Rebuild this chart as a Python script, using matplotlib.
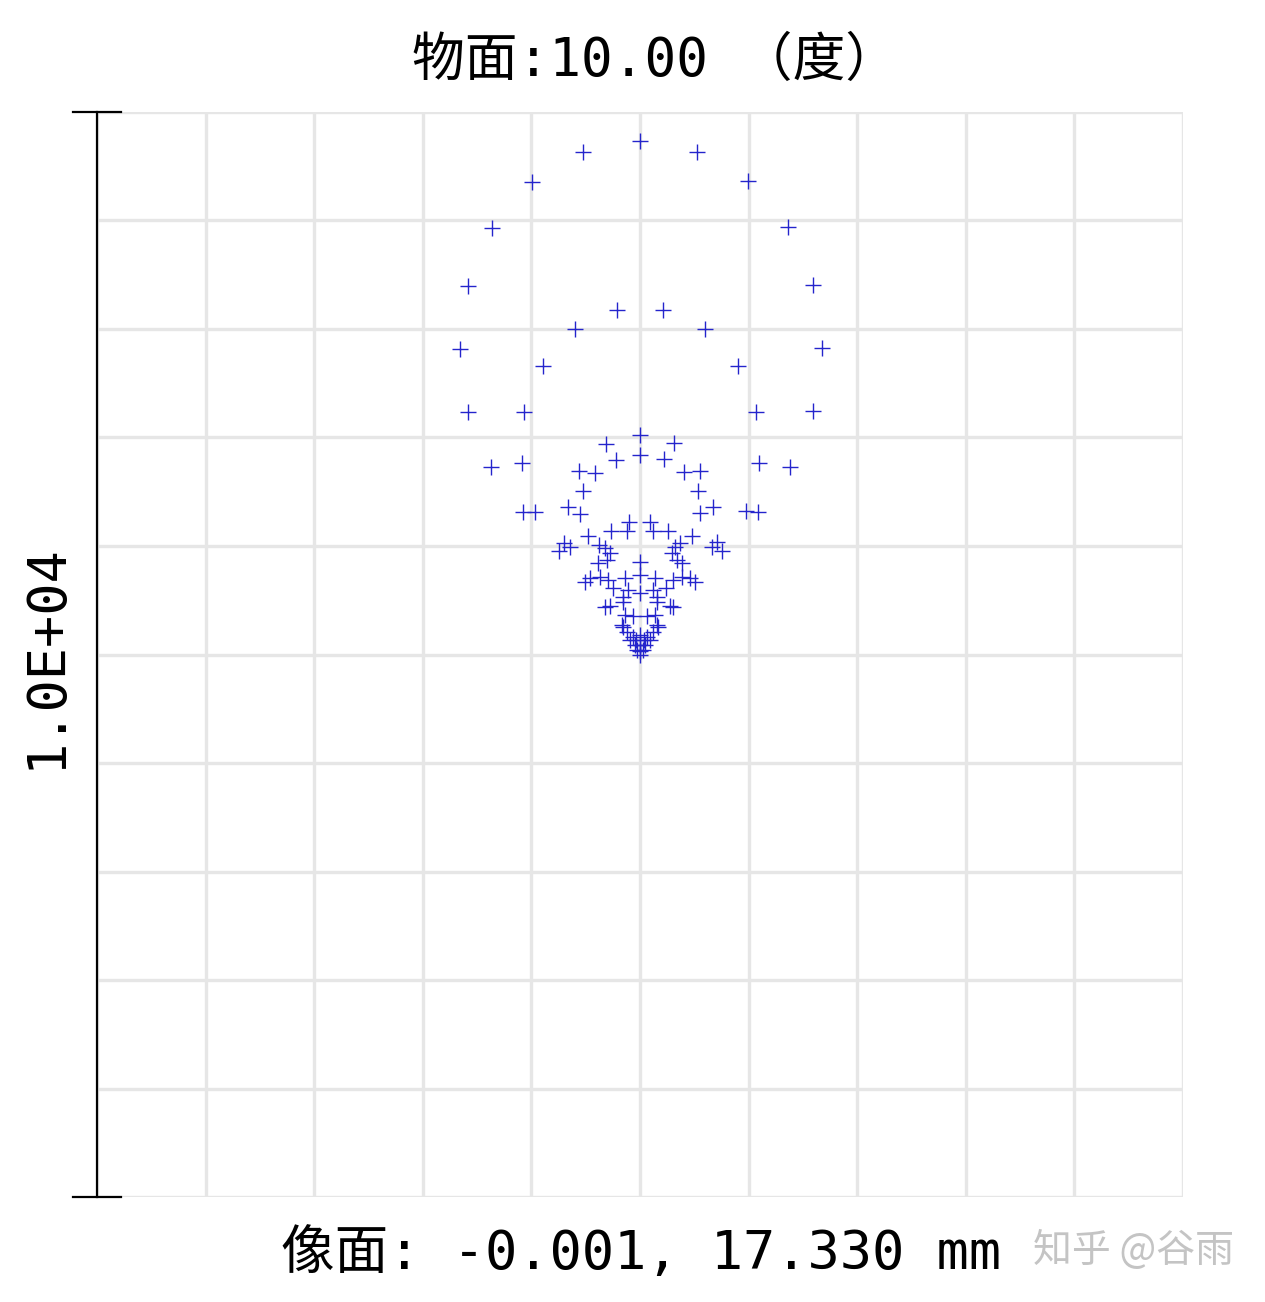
import numpy as np
import matplotlib
matplotlib.use('Agg')
import matplotlib.pyplot as plt

# 点列图数据 (um), 相对主光线位置
# 外圈
ring1_x = [0, -525, 525, -995, 995, -1363, 1363, -1584, 1593, -1658, 1676, -1584, 1593, -1372, 1382, -1078, 1087]
ring1_y = [4734, 4633, 4633, 4356, 4366, 3933, 3942, 3398, 3408, 2818, 2827, 2238, 2247, 1731, 1731, 1317, 1317]
# 第二圈
ring2_x = [-212, 212, -599, 599, -893, 903, -1068, 1068, -1087, 1096, -967, 976]
ring2_y = [3177, 3177, 3002, 3002, 2662, 2662, 2238, 2238, 1768, 1768, 1317, 1326]
# 第三圈
ring3_x = [0, -313, 313, -562, 553, -525, 534, -553, 553, -663, 672, -479, 479, -700, 709, -746, 755, -645, 663]
ring3_y = [2026, 1943, 1953, 1695, 1695, 1510, 1510, 1299, 1308, 1363, 1363, 1096, 1096, 1032, 1041, 958, 958, 995, 995]
# 第四圈
ring4_x = [0, -221, 221, -414, 405, -101, 92, -267, 258, -120, 120, -378, 368, -322, 322, -276, 295, -304, 341, -387, 387, 0]
ring4_y = [1842, 1796, 1805, 1676, 1685, 1225, 1225, 1142, 1142, 1142, 1142, 1013, 1032, 985, 995, 939, 939, 875, 875, 847, 847, 857]
# 内圈
ring5_x = [-507, 507, -460, 460, -368, 387, -295, 304, -138, 138, 0, -249, 239, -111, 120, 0, -157, 157,
           -322, 304, -276, 276, -157, 157, -138, 138, -64, 64, -166, 157, -157, 166, -120, 120]
ring5_y = [672, 672, 709, 709, 718, 718, 691, 691, 709, 709, 737, 617, 617, 599, 599, 571, 534, 534,
           442, 442, 451, 451, 488, 488, 368, 368, 359, 359, 276, 276, 258, 258, 212, 212]
# 中心附近
core_x = [0, -37, 37, 0, -46, 46, -28, 28, 0, 0, -64, 64, -92, 92]
core_y = [184, 138, 138, 92, 92, 92, 46, 46, 28, 0, 166, 166, 138, 138]

scale = 10000  # 1.0E+04

xs = np.concatenate([ring1_x, ring2_x, ring3_x, ring4_x, ring5_x, core_x])
ys = np.concatenate([ring1_y, ring2_y, ring3_y, ring4_y, ring5_y, core_y])

mono_cjk = ['DejaVu Sans Mono', 'Noto Sans CJK SC']

fig = plt.figure(figsize=(12.65, 13.02), dpi=100)
ax = fig.add_axes([0.0767, 0.0806, 0.8585, 0.8334])
ax.set_xlim(-scale / 2, scale / 2)
ax.set_ylim(-scale / 2, scale / 2)

# 网格
for v in np.linspace(-scale / 2, scale / 2, 11):
    ax.axvline(v, color='#e6e6e6', lw=2.4, zorder=0)
    ax.axhline(v, color='#e6e6e6', lw=2.4, zorder=0)

for s in ax.spines.values():
    s.set_visible(False)
ax.set_xticks([])
ax.set_yticks([])

ax.plot(xs, ys, '+', color='#2424cc', ms=11, mew=1.0, zorder=3)

# 左侧比例尺
ax.plot([-scale / 2, -scale / 2], [-scale / 2, scale / 2], color='black', lw=1.6, clip_on=False, zorder=4)
ax.plot([-scale / 2 - 220, -scale / 2 + 220], [scale / 2, scale / 2], color='black', lw=1.6, clip_on=False, zorder=4)
ax.plot([-scale / 2 - 220, -scale / 2 + 220], [-scale / 2, -scale / 2], color='black', lw=1.6, clip_on=False, zorder=4)

fig.text(0.518, 0.953, '物面:10.00 （度）', ha='center', va='center', fontsize=38, family=mono_cjk)
fig.text(0.507, 0.037, '像面: -0.001, 17.330 mm', ha='center', va='center', fontsize=38.6, family=mono_cjk)
fig.text(0.036, 0.496, '1.0E+04', ha='center', va='center', rotation=90, fontsize=38.6, family=mono_cjk)
fig.text(0.896, 0.039, '知乎 @谷雨', ha='center', va='center', fontsize=28, color='#c4c4c4',
         family=['Noto Sans CJK SC', 'DejaVu Sans'])

fig.savefig('out.png', dpi=100)
